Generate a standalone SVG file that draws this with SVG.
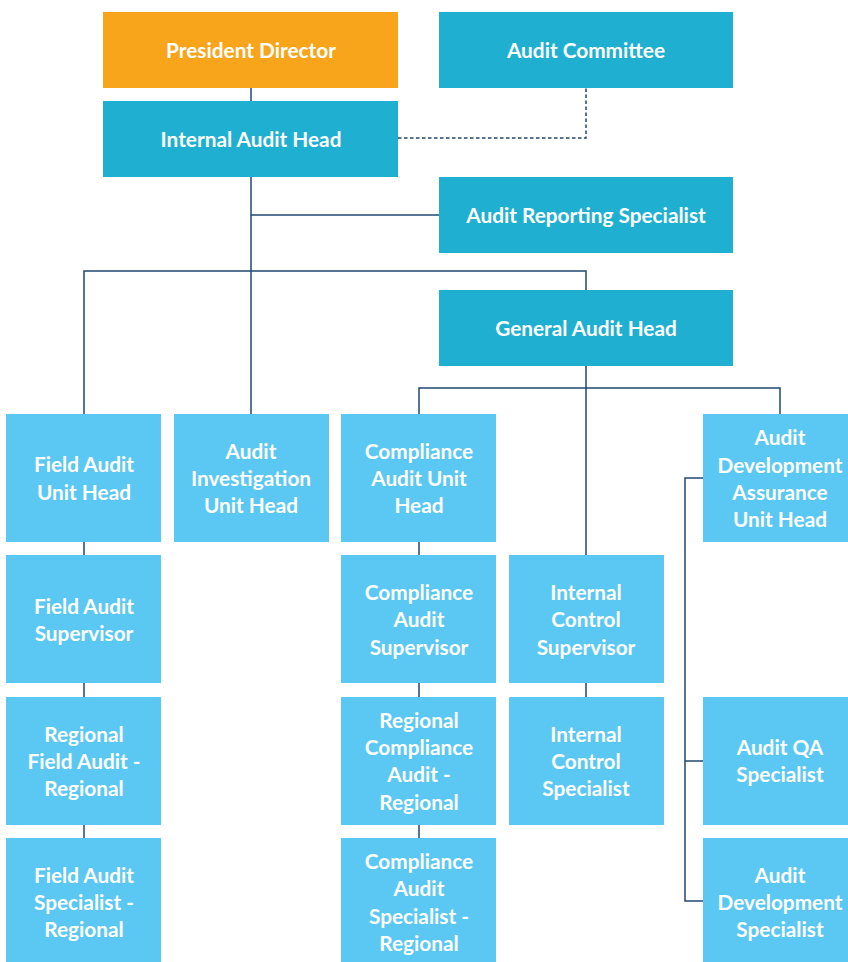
<svg xmlns="http://www.w3.org/2000/svg" width="848" height="962" viewBox="0 0 848 962">
  <style>
    .orange { fill: #F9A51B; }
    .teal { fill: #1EAFD1; }
    .light { fill: #5BC8F3; }
    text { font-family: Lato, "Open Sans", "Liberation Sans", sans-serif; font-weight: 700; font-size: 20.8px; fill: #FFFFFF; text-anchor: middle; }
    .conn { stroke: #204770; stroke-width: 1.5; fill: none; }
    .dash { stroke: #204770; stroke-width: 1.5; fill: none; stroke-dasharray: 3.5 2.5; }
  </style>
  <rect width="848" height="962" fill="#FFFFFF"/>

  <!-- connectors -->
  <g id="connectors">
    <path class="conn" d="M251 88 V101"/>
    <path class="conn" d="M251 177 V414"/>
    <path class="conn" d="M251 215 H439"/>
    <path class="conn" d="M84 414 V271 H586 V290"/>
    <path class="dash" d="M398 138 H586 V88"/>
    <path class="conn" d="M586 366 V555"/>
    <path class="conn" d="M419 414 V388 H780 V414"/>
    <path class="conn" d="M703 478 H685 V901 H703"/>
    <path class="conn" d="M685 761 H703"/>
    <path class="conn" d="M84 542 V555"/>
    <path class="conn" d="M84 683 V697"/>
    <path class="conn" d="M84 825 V838"/>
    <path class="conn" d="M419 542 V555"/>
    <path class="conn" d="M419 683 V697"/>
    <path class="conn" d="M419 825 V838"/>
    <path class="conn" d="M586 683 V697"/>
  </g>

  <!-- top level -->
  <g id="president-director">
    <rect class="orange" x="103" y="12" width="295" height="76"/>
    <text x="251" y="58">President Director</text>
  </g>
  <g id="audit-committee">
    <rect class="teal" x="439" y="12" width="294" height="76"/>
    <text x="586" y="58">Audit Committee</text>
  </g>
  <g id="internal-audit-head">
    <rect class="teal" x="103" y="101" width="295" height="76"/>
    <text x="251" y="147">Internal Audit Head</text>
  </g>
  <g id="audit-reporting-specialist">
    <rect class="teal" x="439" y="177" width="294" height="76"/>
    <text x="586" y="223">Audit Reporting Specialist</text>
  </g>
  <g id="general-audit-head">
    <rect class="teal" x="439" y="290" width="294" height="76"/>
    <text x="586" y="336">General Audit Head</text>
  </g>

  <!-- row 1 -->
  <g id="field-audit-unit-head">
    <rect class="light" x="6" y="414" width="155" height="128"/>
    <text x="84" y="472">Field Audit</text>
    <text x="84" y="500">Unit Head</text>
  </g>
  <g id="audit-investigation-unit-head">
    <rect class="light" x="174" y="414" width="155" height="128"/>
    <text x="251" y="459">Audit</text>
    <text x="251" y="486">Investigation</text>
    <text x="251" y="513">Unit Head</text>
  </g>
  <g id="compliance-audit-unit-head">
    <rect class="light" x="341" y="414" width="155" height="128"/>
    <text x="419" y="459">Compliance</text>
    <text x="419" y="486">Audit Unit</text>
    <text x="419" y="513">Head</text>
  </g>
  <g id="audit-development-assurance-unit-head">
    <rect class="light" x="703" y="414" width="155" height="128"/>
    <text x="780" y="445">Audit</text>
    <text x="780" y="473">Development</text>
    <text x="780" y="500">Assurance</text>
    <text x="780" y="527">Unit Head</text>
  </g>

  <!-- row 2 -->
  <g id="field-audit-supervisor">
    <rect class="light" x="6" y="555" width="155" height="128"/>
    <text x="84" y="614">Field Audit</text>
    <text x="84" y="641">Supervisor</text>
  </g>
  <g id="compliance-audit-supervisor">
    <rect class="light" x="341" y="555" width="155" height="128"/>
    <text x="419" y="600">Compliance</text>
    <text x="419" y="627">Audit</text>
    <text x="419" y="655">Supervisor</text>
  </g>
  <g id="internal-control-supervisor">
    <rect class="light" x="509" y="555" width="155" height="128"/>
    <text x="586" y="600">Internal</text>
    <text x="586" y="627">Control</text>
    <text x="586" y="655">Supervisor</text>
  </g>

  <!-- row 3 -->
  <g id="regional-field-audit">
    <rect class="light" x="6" y="697" width="155" height="128"/>
    <text x="84" y="742">Regional</text>
    <text x="84" y="769">Field Audit -</text>
    <text x="84" y="796">Regional</text>
  </g>
  <g id="regional-compliance-audit">
    <rect class="light" x="341" y="697" width="155" height="128"/>
    <text x="419" y="728">Regional</text>
    <text x="419" y="755">Compliance</text>
    <text x="419" y="782">Audit -</text>
    <text x="419" y="810">Regional</text>
  </g>
  <g id="internal-control-specialist">
    <rect class="light" x="509" y="697" width="155" height="128"/>
    <text x="586" y="742">Internal</text>
    <text x="586" y="769">Control</text>
    <text x="586" y="796">Specialist</text>
  </g>
  <g id="audit-qa-specialist">
    <rect class="light" x="703" y="697" width="155" height="128"/>
    <text x="780" y="755">Audit QA</text>
    <text x="780" y="782">Specialist</text>
  </g>

  <!-- row 4 -->
  <g id="field-audit-specialist-regional">
    <rect class="light" x="6" y="838" width="155" height="124"/>
    <text x="84" y="883">Field Audit</text>
    <text x="84" y="910">Specialist -</text>
    <text x="84" y="937">Regional</text>
  </g>
  <g id="compliance-audit-specialist-regional">
    <rect class="light" x="341" y="838" width="155" height="124"/>
    <text x="419" y="869">Compliance</text>
    <text x="419" y="896">Audit</text>
    <text x="419" y="924">Specialist -</text>
    <text x="419" y="951">Regional</text>
  </g>
  <g id="audit-development-specialist">
    <rect class="light" x="703" y="838" width="155" height="124"/>
    <text x="780" y="883">Audit</text>
    <text x="780" y="910">Development</text>
    <text x="780" y="937">Specialist</text>
  </g>
</svg>
